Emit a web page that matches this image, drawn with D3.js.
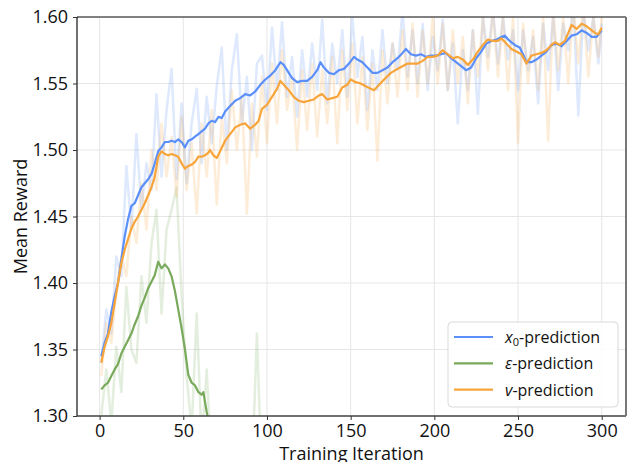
<!DOCTYPE html>
<html>
<head>
<meta charset="utf-8">
<script src="https://cdn.jsdelivr.net/npm/d3@7"></script>
<style>
  html, body { margin: 0; padding: 0; background: #fff; }
  svg text { font-family: "Open Sans", "DejaVu Sans", sans-serif; fill: #111; }
</style>
</head>
<body>
<svg id="chart" width="631" height="462"></svg>
<script>
// --- data ---
const xTicks = [0, 50, 100, 150, 200, 250, 300];
const yTicks = [1.30, 1.35, 1.40, 1.45, 1.50, 1.55, 1.60];

// raw (faint) samples, every 3rd iteration
const rawIters = [1, 4, 7, 10, 13, 16, 19, 22, 25, 28, 31, 34, 37, 40, 43, 46, 49, 52, 55, 58,
  61, 64, 67, 70, 73, 76, 79, 82, 85, 88, 91, 94, 97, 100, 103, 106, 109, 112, 115, 118,
  121, 124, 127, 130, 133, 136, 139, 142, 145, 148, 151, 154, 157, 160, 163, 166, 169, 172, 175, 178,
  181, 184, 187, 190, 193, 196, 199, 202, 205, 208, 211, 214, 217, 220, 223, 226, 229, 232, 235, 238,
  241, 244, 247, 250, 253, 256, 259, 262, 265, 268, 271, 274, 277, 280, 283, 286, 289, 292, 295, 298, 300];

const x0Raw = [1.340, 1.380, 1.362, 1.420, 1.405, 1.488, 1.440, 1.512, 1.455, 1.490, 1.470, 1.542, 1.480, 1.530, 1.561, 1.478, 1.535, 1.475, 1.520, 1.546,
  1.490, 1.540, 1.505, 1.548, 1.577, 1.500, 1.560, 1.587, 1.520, 1.555, 1.500, 1.565, 1.571, 1.530, 1.592, 1.545, 1.596, 1.540, 1.570, 1.525,
  1.575, 1.540, 1.580, 1.545, 1.598, 1.535, 1.580, 1.550, 1.590, 1.540, 1.600, 1.555, 1.585, 1.530, 1.575, 1.545, 1.590, 1.550, 1.580, 1.560,
  1.605, 1.555, 1.590, 1.550, 1.595, 1.545, 1.585, 1.560, 1.598, 1.545, 1.580, 1.520, 1.575, 1.545, 1.590, 1.527, 1.600, 1.570, 1.605, 1.565,
  1.600, 1.568, 1.590, 1.545, 1.590, 1.560, 1.585, 1.535, 1.595, 1.560, 1.600, 1.545, 1.595, 1.575, 1.610, 1.526, 1.605, 1.575, 1.600, 1.565, 1.595];

const vRaw = [1.330, 1.370, 1.355, 1.395, 1.420, 1.405, 1.450, 1.430, 1.475, 1.440, 1.500, 1.470, 1.520, 1.480, 1.510, 1.465, 1.525, 1.470, 1.505, 1.452,
  1.520, 1.480, 1.530, 1.459, 1.525, 1.490, 1.545, 1.500, 1.540, 1.452, 1.535, 1.495, 1.555, 1.505, 1.565, 1.520, 1.575, 1.530, 1.555, 1.500,
  1.560, 1.515, 1.565, 1.510, 1.560, 1.520, 1.570, 1.505, 1.575, 1.530, 1.580, 1.520, 1.570, 1.515, 1.565, 1.492, 1.575, 1.535, 1.580, 1.540,
  1.590, 1.545, 1.595, 1.540, 1.590, 1.550, 1.600, 1.550, 1.595, 1.545, 1.590, 1.550, 1.585, 1.535, 1.590, 1.555, 1.600, 1.560, 1.605, 1.555,
  1.600, 1.545, 1.600, 1.505, 1.595, 1.550, 1.590, 1.545, 1.600, 1.507, 1.605, 1.560, 1.600, 1.550, 1.610, 1.565, 1.610, 1.555, 1.600, 1.570, 1.600];

const epsRawIters = [1, 4, 7, 10, 13, 16, 19, 22, 25, 28, 31, 34, 37, 40, 43, 46, 49, 52, 55, 58,
  61, 64, 67, 70, 73, 76, 79, 82, 85, 88, 91, 94, 97];
const epsRaw = [1.300, 1.335, 1.295, 1.352, 1.318, 1.397, 1.350, 1.340, 1.405, 1.370, 1.430, 1.455, 1.377, 1.440, 1.455, 1.472, 1.390, 1.330, 1.290, 1.377,
  1.280, 1.335, 1.260, 1.295, 1.250, 1.240, 1.270, 1.235, 1.250, 1.240, 1.255, 1.362, 1.250];

// smoothed curves
const x0Iters = [1, 3, 5, 7, 9, 11, 13, 15, 17, 19, 21, 23, 25, 27, 29, 31, 33, 35, 37, 39,
  41, 43, 45, 47, 49, 51, 53, 55, 57, 59, 61, 63, 65, 67, 69, 71, 73, 75, 78, 81,
  84, 87, 90, 93, 96, 99, 102, 105, 108, 110, 112, 115, 118, 121, 124, 127, 130, 132, 134, 137,
  140, 143, 146, 149, 152, 154, 157, 160, 163, 166, 169, 172, 175, 178, 181, 183, 186, 189, 192, 195,
  198, 201, 204, 207, 210, 213, 216, 219, 222, 225, 228, 231, 234, 237, 240, 242, 245, 248, 251, 253,
  255, 258, 261, 264, 267, 270, 273, 276, 279, 282, 285, 288, 291, 294, 297, 300];
const x0Smooth = [1.345, 1.355, 1.362, 1.378, 1.390, 1.400, 1.418, 1.435, 1.448, 1.458, 1.460, 1.466, 1.472, 1.475, 1.478, 1.482, 1.490, 1.499, 1.502, 1.506,
  1.506, 1.507, 1.506, 1.508, 1.506, 1.502, 1.507, 1.508, 1.510, 1.512, 1.514, 1.516, 1.520, 1.522, 1.521, 1.525, 1.524, 1.529, 1.533, 1.537,
  1.539, 1.542, 1.541, 1.544, 1.549, 1.553, 1.556, 1.560, 1.566, 1.564, 1.560, 1.554, 1.551, 1.552, 1.552, 1.555, 1.560, 1.566, 1.562, 1.558,
  1.557, 1.560, 1.561, 1.565, 1.570, 1.568, 1.566, 1.562, 1.558, 1.558, 1.560, 1.562, 1.566, 1.569, 1.573, 1.576, 1.572, 1.571, 1.572, 1.570,
  1.571, 1.571, 1.572, 1.573, 1.569, 1.566, 1.563, 1.560, 1.562, 1.569, 1.574, 1.580, 1.582, 1.583, 1.585, 1.586, 1.582, 1.579, 1.577, 1.572,
  1.566, 1.566, 1.568, 1.571, 1.574, 1.579, 1.580, 1.578, 1.582, 1.586, 1.587, 1.590, 1.588, 1.585, 1.585, 1.590];

const vIters = [1, 3, 5, 7, 9, 11, 13, 15, 17, 19, 21, 23, 25, 27, 29, 31, 33, 35, 37, 39,
  41, 43, 45, 47, 49, 51, 53, 55, 57, 59, 61, 63, 65, 66, 68, 70, 72, 75, 78, 81,
  84, 87, 90, 93, 95, 97, 100, 103, 106, 108, 110, 113, 116, 119, 122, 125, 128, 131, 133, 136,
  139, 142, 145, 148, 150, 153, 156, 159, 162, 164, 167, 170, 174, 178, 181, 184, 187, 190, 193, 196,
  199, 202, 205, 208, 211, 214, 217, 220, 223, 226, 229, 232, 235, 238, 240, 243, 246, 249, 252, 255,
  258, 261, 264, 267, 270, 272, 275, 278, 280, 282, 285, 288, 291, 294, 296, 298, 300];
const vSmooth = [1.340, 1.352, 1.360, 1.370, 1.385, 1.400, 1.415, 1.425, 1.433, 1.441, 1.446, 1.450, 1.455, 1.460, 1.466, 1.472, 1.480, 1.495, 1.499, 1.497,
  1.496, 1.497, 1.496, 1.495, 1.490, 1.486, 1.488, 1.489, 1.491, 1.495, 1.495, 1.496, 1.498, 1.500, 1.496, 1.494, 1.499, 1.507, 1.512, 1.517,
  1.519, 1.520, 1.516, 1.519, 1.522, 1.531, 1.534, 1.540, 1.546, 1.552, 1.549, 1.545, 1.540, 1.537, 1.536, 1.537, 1.538, 1.541, 1.542, 1.538,
  1.539, 1.540, 1.547, 1.549, 1.553, 1.551, 1.550, 1.548, 1.546, 1.545, 1.549, 1.553, 1.558, 1.561, 1.563, 1.565, 1.565, 1.565, 1.567, 1.570,
  1.570, 1.571, 1.575, 1.572, 1.569, 1.570, 1.568, 1.564, 1.568, 1.574, 1.579, 1.583, 1.582, 1.582, 1.584, 1.580, 1.576, 1.574, 1.572, 1.565,
  1.571, 1.572, 1.573, 1.575, 1.579, 1.581, 1.579, 1.582, 1.588, 1.594, 1.591, 1.595, 1.593, 1.590, 1.588, 1.587, 1.592];

const epsIters = [1, 3, 5, 7, 9, 11, 13, 15, 17, 19, 21, 23, 25, 27, 29, 31, 33, 35, 37, 39,
  41, 43, 45, 47, 49, 51, 53, 55, 57, 59, 61, 62, 64, 66, 68];
const epsSmooth = [1.320, 1.323, 1.325, 1.330, 1.335, 1.339, 1.347, 1.352, 1.357, 1.362, 1.369, 1.375, 1.383, 1.389, 1.396, 1.401, 1.406, 1.416, 1.411, 1.414,
  1.411, 1.405, 1.394, 1.380, 1.366, 1.350, 1.331, 1.325, 1.323, 1.318, 1.316, 1.318, 1.303, 1.290, 1.280];

const seriesNames = ["x0", "eps", "v"];
const seriesColors = ["#5b8ff9", "#79a95b", "#f7a43a"];

// --- layout ---
const svg = d3.select("#chart");
const plot = { left: 77, right: 626, top: 17, bottom: 416 };

const x = d3.scaleLinear().domain([-13.5, 314.5]).range([plot.left, plot.right]);
const y = d3.scaleLinear().domain([1.30, 1.60]).range([plot.bottom, plot.top]);

svg.append("defs").append("clipPath").attr("id", "clip")
  .append("rect")
  .attr("x", plot.left).attr("y", plot.top)
  .attr("width", plot.right - plot.left).attr("height", plot.bottom - plot.top);

// grid
const grid = svg.append("g");
grid.selectAll("line.gx").data(xTicks).join("line")
  .attr("x1", (d) => x(d)).attr("x2", (d) => x(d))
  .attr("y1", plot.top).attr("y2", plot.bottom)
  .attr("stroke", "#e6e6e6").attr("stroke-width", 1);
grid.selectAll("line.gy").data(yTicks).join("line")
  .attr("x1", plot.left).attr("x2", plot.right)
  .attr("y1", (d) => y(d)).attr("y2", (d) => y(d))
  .attr("stroke", "#e6e6e6").attr("stroke-width", 1);

const lines = svg.append("g").attr("clip-path", "url(#clip)");
const line = d3.line().x((d) => x(d[0])).y((d) => y(d[1]));
const zip = (a, b) => a.map((v, i) => [v, b[i]]);

const rawSets = [zip(rawIters, x0Raw), zip(epsRawIters, epsRaw), zip(rawIters, vRaw)];
const smoothSets = [zip(x0Iters, x0Smooth), zip(epsIters, epsSmooth), zip(vIters, vSmooth)];

rawSets.forEach((pts, i) => {
  lines.append("path")
    .attr("d", line(pts))
    .attr("fill", "none")
    .attr("stroke", seriesColors[i])
    .attr("stroke-opacity", 0.2)
    .attr("stroke-width", 2.5)
    .attr("stroke-linejoin", "round");
});
smoothSets.forEach((pts, i) => {
  lines.append("path")
    .attr("d", line(pts))
    .attr("fill", "none")
    .attr("stroke", seriesColors[i])
    .attr("stroke-width", 2.2)
    .attr("stroke-linejoin", "round");
});

// frame
svg.append("line").attr("x1", plot.left).attr("x2", plot.right).attr("y1", plot.top).attr("y2", plot.top)
  .attr("stroke", "#111").attr("stroke-width", 1.2);
svg.append("line").attr("x1", plot.left).attr("x2", plot.left).attr("y1", plot.top).attr("y2", plot.bottom)
  .attr("stroke", "#111").attr("stroke-width", 1.2);
svg.append("line").attr("x1", plot.left).attr("x2", plot.right).attr("y1", plot.bottom).attr("y2", plot.bottom)
  .attr("stroke", "#444").attr("stroke-width", 1.5);
svg.append("line").attr("x1", plot.right).attr("x2", plot.right).attr("y1", plot.top).attr("y2", plot.bottom)
  .attr("stroke", "#777").attr("stroke-width", 2);

// axes
const xAxis = svg.append("g").attr("transform", `translate(0,${plot.bottom})`)
  .call(d3.axisBottom(x).tickValues(xTicks).tickSize(4).tickPadding(4).tickFormat(d3.format("d")));
const yAxis = svg.append("g").attr("transform", `translate(${plot.left},0)`)
  .call(d3.axisLeft(y).tickValues(yTicks).tickSize(4).tickPadding(5).tickFormat(d3.format(".2f")));
[xAxis, yAxis].forEach((g) => {
  g.select(".domain").remove();
  g.selectAll(".tick line").attr("stroke", "#333");
  g.selectAll(".tick text").attr("font-size", 18).attr("fill", "#111")
    .style("font-family", '"Open Sans", sans-serif');
});

svg.append("text")
  .attr("x", (plot.left + plot.right) / 2).attr("y", 460)
  .attr("text-anchor", "middle").attr("font-size", 18)
  .text("Training Iteration");
svg.append("text")
  .attr("transform", `translate(27,${(plot.top + plot.bottom) / 2}) rotate(-90)`)
  .attr("text-anchor", "middle").attr("font-size", 18)
  .text("Mean Reward");

// legend
const legend = svg.append("g").attr("transform", "translate(448,322)");
legend.append("rect")
  .attr("width", 170).attr("height", 85).attr("rx", 4)
  .attr("fill", "#fff").attr("fill-opacity", 0.85)
  .attr("stroke", "#d9d9d9");
seriesNames.forEach((name, i) => {
  const ly = 15 + i * 26.3;
  legend.append("line")
    .attr("x1", 6).attr("x2", 45).attr("y1", ly).attr("y2", ly)
    .attr("stroke", seriesColors[i]).attr("stroke-width", 2.2);
  const t = legend.append("text").attr("x", 57).attr("y", ly + 6).attr("font-size", 16);
  if (name === "x0") {
    t.append("tspan").attr("font-style", "italic").text("x");
    t.append("tspan").attr("font-size", 11).attr("dy", 3).text("0");
    t.append("tspan").attr("dy", -3).text("-prediction");
  } else if (name === "eps") {
    t.append("tspan").attr("font-style", "italic").text("ε");
    t.append("tspan").text("-prediction");
  } else {
    t.append("tspan").attr("font-style", "italic").text("v");
    t.append("tspan").text("-prediction");
  }
});
</script>
</body>
</html>
